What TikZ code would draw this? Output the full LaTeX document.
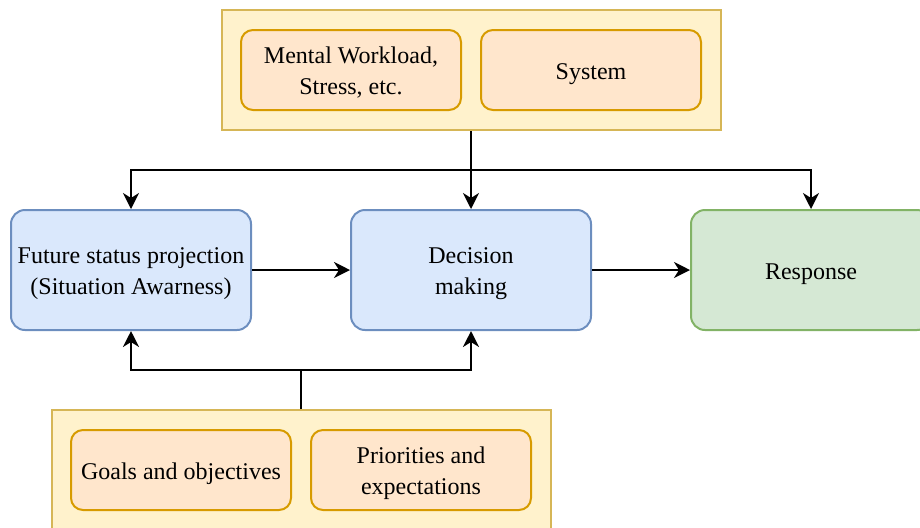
\documentclass[tikz,border=0pt]{standalone}
\usepackage{fontspec}
\setmainfont{Liberation Serif}
\definecolor{groupfill}{HTML}{FFF2CC}
\definecolor{groupline}{HTML}{D6B656}
\definecolor{factorfill}{HTML}{FFE6CC}
\definecolor{factorline}{HTML}{D79B00}
\definecolor{stagefill}{HTML}{DAE8FC}
\definecolor{stageline}{HTML}{6C8EBF}
\definecolor{outfill}{HTML}{D5E8D4}
\definecolor{outline}{HTML}{82B366}
\usetikzlibrary{arrows.meta}
\usetikzlibrary{positioning}
\newcommand\lines[1]{\begin{tabular}{@{}c@{}}\rule{0pt}{13.9pt}#1\end{tabular}}
\tikzset{
  every node/.style={font=\fontsize{12}{15.5}\selectfont, inner sep=0},
  group/.style={draw=groupline, fill=groupfill, line width=1pt,
    minimum width=249.5pt, minimum height=60pt},
  factor/.style={draw=factorline, fill=factorfill, line width=1pt, rounded corners=6pt,
    minimum width=110pt, minimum height=40pt},
  stage/.style={draw=stageline, fill=stagefill, line width=1pt, rounded corners=7pt,
    minimum width=120pt, minimum height=60pt},
  result/.style={stage, draw=outline, fill=outfill},
  link/.style={line width=1pt},
  arrow/.style={link, -{Stealth[length=8pt, width=8pt, inset=2.5pt]}}
}
\begin{document}
\begin{tikzpicture}[x=0.5pt, y=-0.5pt]
  \useasboundingbox (0,0) rectangle (920,527);
  \clip (0,0) rectangle (920,527);

  % influences from above
  \node[group] (top) at (471,70) {};
  \node[factor] (workload) at (351,70) {\lines{Mental Workload,\\Stress, etc.}};
  \node[factor] (system) at (591,70) {\lines{System}};

  % main stages
  \node[stage] (future) at (131,270) {\lines{Future status projection\\(Situation Awarness)}};
  \node[stage] (decision) at (471,270) {\lines{Decision\\making}};
  \node[result] (response) at (811,270) {\lines{Response}};

  % influences from below
  \node[group] (bottom) at (301,470) {};
  \node[factor] (goals) at (181,470) {\lines{Goals and objectives}};
  \node[factor] (priorities) at (421,470) {\lines{Priorities and\\expectations}};

  \coordinate (fork) at (471,170);
  \coordinate (join) at (301,370);

  \draw[link] (top.south) -- (fork);
  \draw[arrow] (fork) -| (future.north);
  \draw[arrow] (fork) -- (decision.north);
  \draw[arrow] (fork) -| (response.north);

  \draw[arrow] (future) -- (decision);
  \draw[arrow] (decision) -- (response);

  \draw[link] (bottom.north) -- (join);
  \draw[arrow] (join) -| (future.south);
  \draw[arrow] (join) -| (decision.south);
\end{tikzpicture}
\end{document}
